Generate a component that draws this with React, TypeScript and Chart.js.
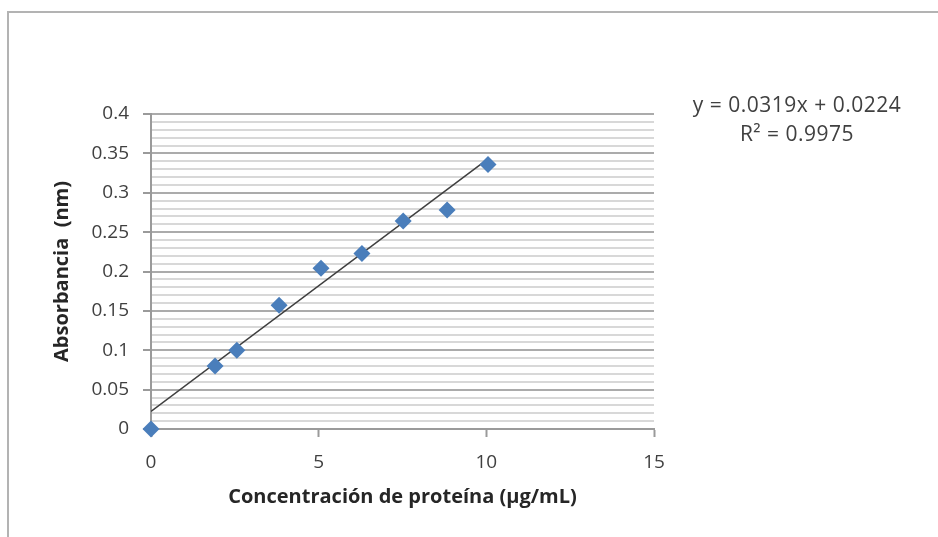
import React, { useEffect, useRef } from "react";
import { Chart, registerables } from "chart.js";

Chart.register(...registerables);

// Data
const concentration = [0, 1.91, 2.56, 3.82, 5.07, 6.29, 7.52, 8.83, 10.05];
const absorbance = [0, 0.08, 0.1, 0.157, 0.204, 0.223, 0.264, 0.278, 0.336];
const slope = 0.0319;
const intercept = 0.0224;
const equationText = "y = 0.0319x + 0.0224";
const r2Text = "R² = 0.9975";
const xTitle = "Concentración de proteína (µg/mL)";
const yTitle = "Absorbancia  (nm)";

const FONT = "'Open Sans', 'Noto Sans', sans-serif";

export default function App() {
  const canvasRef = useRef<HTMLCanvasElement | null>(null);

  useEffect(() => {
    const canvas = canvasRef.current;
    if (!canvas) return;
    const xMax = Math.max(...concentration);
    const trend = [
      { x: 0, y: intercept },
      { x: xMax, y: slope * xMax + intercept },
    ];
    const isMajor = (v: number) => Math.abs(Math.round(v * 100) % 5) === 0;

    const chart = new Chart(canvas, {
      type: "scatter",
      data: {
        datasets: [
          {
            type: "line",
            data: trend,
            borderColor: "#3f3f3f",
            borderWidth: 1.5,
            pointRadius: 0,
            fill: false,
            order: 2,
          } as any,
          {
            data: concentration.map((x, i) => ({ x, y: absorbance[i] })),
            pointStyle: "rectRot",
            pointRadius: 8.5,
            backgroundColor: "#4a7ebb",
            borderColor: "#4a7ebb",
            borderWidth: 0,
            clip: false,
            order: 1,
          } as any,
        ],
      },
      options: {
        responsive: false,
        animation: false,
        layout: { padding: { left: 0, top: 114, right: 284, bottom: 0 } },
        plugins: { legend: { display: false }, tooltip: { enabled: false } },
        scales: {
          x: {
            type: "linear",
            min: 0,
            max: 15,
            ticks: {
              stepSize: 5,
              padding: 14,
              color: "#404040",
              font: { family: FONT, size: 19 },
            },
            grid: {
              drawOnChartArea: false,
              drawTicks: true,
              tickLength: 8,
              tickColor: "#9a9a9a",
              tickWidth: 2,
            },
            border: { display: true, color: "#9a9a9a", width: 2 },
            title: {
              display: true,
              text: xTitle,
              color: "#262626",
              font: { family: FONT, size: 20, weight: "bold" },
              padding: { top: 0, bottom: 28 },
            },
            afterFit: (scale: any) => {
              scale.height = 108;
            },
          },
          y: {
            type: "linear",
            min: 0,
            max: 0.4,
            ticks: {
              stepSize: 0.01,
              autoSkip: false,
              padding: 14,
              color: "#404040",
              font: { family: FONT, size: 19 },
              callback: (v: any) => {
                const n = Number(v);
                return isMajor(n) ? String(Number(n.toFixed(2))) : "";
              },
            },
            grid: {
              drawTicks: true,
              tickLength: 8,
              lineWidth: 2,
              color: (ctx: any) =>
                ctx.tick && isMajor(ctx.tick.value) ? "#ababab" : "#d8d8d8",
              tickColor: (ctx: any) =>
                ctx.tick && isMajor(ctx.tick.value) ? "#9a9a9a" : "rgba(0,0,0,0)",
              tickWidth: 2,
            },
            border: { display: true, color: "#9a9a9a", width: 2 },
            title: {
              display: true,
              text: yTitle,
              color: "#262626",
              font: { family: FONT, size: 20, weight: "bold" },
              padding: { top: 50, bottom: 0 },
            },
            afterFit: (scale: any) => {
              scale.width = 151;
            },
          },
        },
      },
    });
    return () => chart.destroy();
  }, []);

  const eqStyle: React.CSSProperties = {
    position: "absolute",
    left: 677,
    width: 240,
    textAlign: "center",
    fontFamily: FONT,
    fontSize: 21,
    letterSpacing: "0.5px",
    color: "#404040",
    lineHeight: "28px",
    whiteSpace: "nowrap",
  };

  return (
    <div
      style={{
        position: "fixed",
        left: 0,
        top: 0,
        width: 938,
        height: 537,
        overflow: "hidden",
        background: "#ffffff",
      }}
    >
      <div
        style={{
          position: "absolute",
          left: 7,
          top: 11,
          width: 2000,
          height: 2000,
          borderLeft: "2px solid #b3b3b3",
          borderTop: "2px solid #b3b3b3",
        }}
      />
      <canvas
        ref={canvasRef}
        width={938}
        height={537}
        style={{ position: "absolute", left: 0, top: 0, width: 938, height: 537 }}
      />
      <div style={{ ...eqStyle, top: 90 }}>{equationText}</div>
      <div style={{ ...eqStyle, top: 119 }}>{r2Text}</div>
    </div>
  );
}
